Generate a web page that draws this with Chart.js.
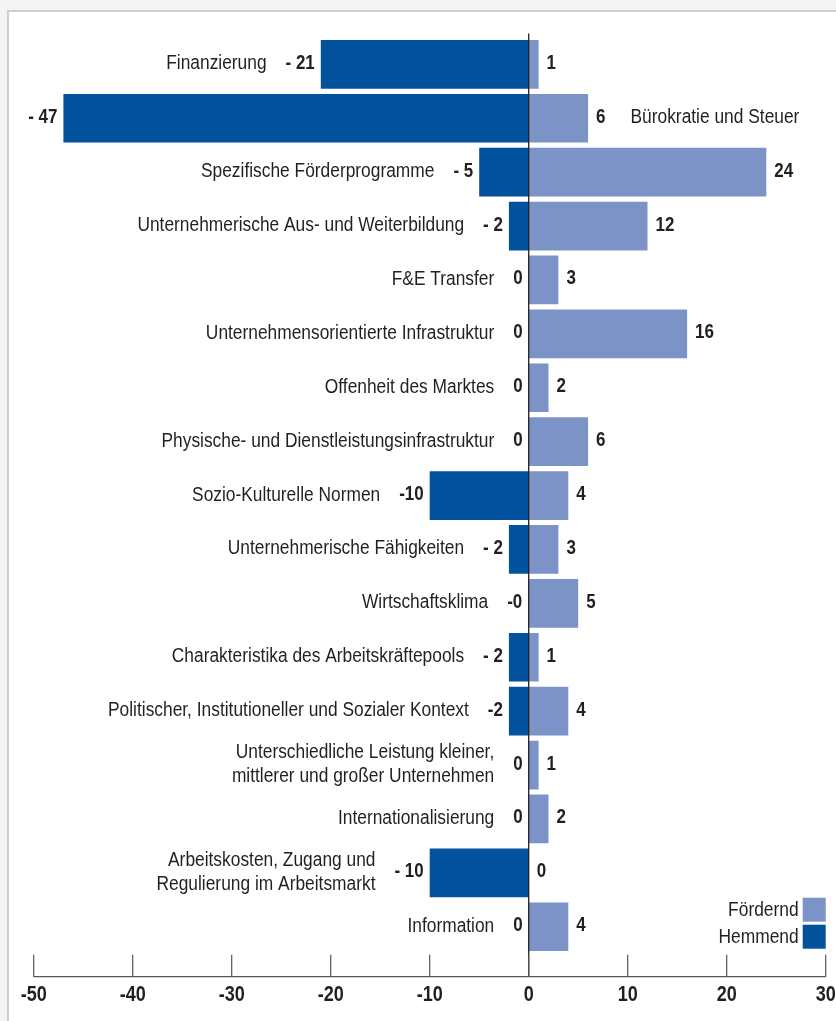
<!DOCTYPE html>
<html lang="de">
<head>
<meta charset="utf-8">
<title>Fördernde und hemmende Faktoren</title>
<script src="https://cdn.jsdelivr.net/npm/chart.js@4.4.1/dist/chart.umd.min.js"></script>
<style>
    html, body { margin: 0; padding: 0; background: #fff; }
    #wrap { position: relative; width: 836px; height: 1021px; overflow: hidden; background: #f3f4f6; }
    #frame { position: absolute; left: 7px; top: 10px; width: 900px; height: 1100px; background: #fff;
             border-left: 2px solid #cfcfcf; border-top: 2px solid #cfcfcf; }
    canvas { position: absolute; left: 0; top: 0; }
</style>
</head>
<body>
<div id="wrap">
    <div id="frame"></div>
    <canvas id="factorChart" width="836" height="1021"></canvas>
</div>
<script>
// Kategorien (von oben nach unten)
const categories = [
    'Finanzierung',
    'Bürokratie und Steuer',
    'Spezifische Förderprogramme',
    'Unternehmerische Aus- und Weiterbildung',
    'F&E Transfer',
    'Unternehmensorientierte Infrastruktur',
    'Offenheit des Marktes',
    'Physische- und Dienstleistungsinfrastruktur',
    'Sozio-Kulturelle Normen',
    'Unternehmerische Fähigkeiten',
    'Wirtschaftsklima',
    'Charakteristika des Arbeitskräftepools',
    'Politischer, Institutioneller und Sozialer Kontext',
    ['Unterschiedliche Leistung kleiner,', 'mittlerer und großer Unternehmen'],
    'Internationalisierung',
    ['Arbeitskosten, Zugang und', 'Regulierung im Arbeitsmarkt'],
    'Information'
];

// Werte
const foerdernd = [1, 6, 24, 12, 3, 16, 2, 6, 4, 3, 5, 1, 4, 1, 2, 0, 4];
const hemmend = [-21, -47, -5, -2, 0, 0, 0, 0, -10, -2, -0.04, -2, -2, 0, 0, -10, 0];
const hemmendText = ['- 21', '- 47', '- 5', '- 2', '0', '0', '0', '0', '-10', '- 2', '-0', '- 2', '-2', '0', '0', '- 10', '0'];

// Achse
const xTicks = [-50, -40, -30, -20, -10, 0, 10, 20, 30];

const FONT = "'Liberation Sans', Arial, sans-serif";
const TEXT_COLOR = '#231f20';
const COLOR_FOERDERND = '#7b93c6';
const COLOR_HEMMEND = '#02529e';

// schmale Schrift: Liberation Sans horizontal gestaucht
function narrowText(ctx, text, x, y, align, font, squeeze) {
    ctx.font = font;
    const w = ctx.measureText(text).width * squeeze;
    let left = x;
    if (align === 'right') left = x - w;
    if (align === 'center') left = x - w / 2;
    ctx.save();
    ctx.translate(left, y);
    ctx.scale(squeeze, 1);
    ctx.textAlign = 'left';
    ctx.textBaseline = 'alphabetic';
    ctx.fillText(text, 0, 0);
    ctx.restore();
    return w;
}

function narrowWidth(ctx, text, font, squeeze) {
    ctx.font = font;
    return ctx.measureText(text).width * squeeze;
}

// Zeichnet Nulllinie, Achse, Beschriftungen und Legende
const labelPlugin = {
    id: 'rowLabels',
    afterDatasetsDraw(chart) {
        const { ctx, chartArea, scales: { x, y } } = chart;
        const zero = x.getPixelForValue(0);
        const axisY = chartArea.bottom + 23;

        const labelFont = '19.5px ' + FONT;
        const valueFont = 'bold 19.5px ' + FONT;
        const tickFont = 'bold 21.5px ' + FONT;
        const legendFont = '20px ' + FONT;

        ctx.save();

        // Nulllinie
        ctx.strokeStyle = TEXT_COLOR;
        ctx.lineWidth = 1.3;
        ctx.beginPath();
        ctx.moveTo(zero, chartArea.top - 4);
        ctx.lineTo(zero, axisY);
        ctx.stroke();

        // x-Achse mit Strichen nach oben
        ctx.strokeStyle = '#555';
        ctx.lineWidth = 1.2;
        ctx.beginPath();
        ctx.moveTo(x.left, axisY);
        ctx.lineTo(x.right, axisY);
        x.ticks.forEach(t => {
            const px = x.getPixelForValue(t.value);
            ctx.moveTo(px, axisY);
            ctx.lineTo(px, axisY - 22);
        });
        ctx.stroke();

        ctx.fillStyle = TEXT_COLOR;
        x.ticks.forEach(t => {
            narrowText(ctx, String(t.value), x.getPixelForValue(t.value), axisY + 24, 'center', tickFont, 0.84);
        });

        // Zeilenbeschriftungen
        categories.forEach((cat, i) => {
            const cy = y.getPixelForValue(i);
            const base = cy + 4.5;
            const negEnd = x.getPixelForValue(Math.min(hemmend[i], 0));
            const posEnd = x.getPixelForValue(Math.max(foerdernd[i], 0));

            const negW = narrowText(ctx, hemmendText[i], negEnd - 6, base, 'right', valueFont, 0.87);
            const posW = narrowText(ctx, String(foerdernd[i]), posEnd + 8, base, 'left', valueFont, 0.87);

            const lines = Array.isArray(cat) ? cat : [cat];
            const maxW = Math.max(...lines.map(l => narrowWidth(ctx, l, labelFont, 0.89)));
            let lx = negEnd - 6 - negW - 19;
            let align = 'right';
            if (lx - maxW < chartArea.left) {
                lx = posEnd + 8 + posW + 25;
                align = 'left';
            }
            lines.forEach((l, k) => {
                const ly = base + 0.5 + (k - (lines.length - 1) / 2) * 24;
                narrowText(ctx, l, lx, ly, align, labelFont, 0.89);
            });
        });

        // Legende unten rechts
        const boxW = 23, boxH = 24;
        let top = chartArea.bottom - 56;
        chart.data.datasets.forEach(ds => {
            ctx.fillStyle = ds.backgroundColor;
            ctx.fillRect(chartArea.right - boxW, top, boxW, boxH);
            ctx.fillStyle = TEXT_COLOR;
            narrowText(ctx, ds.label, chartArea.right - boxW - 4, top + boxH / 2 + 6, 'right', legendFont, 0.87);
            top += boxH + 3;
        });

        ctx.restore();
    }
};

const ctx = document.getElementById('factorChart');

new Chart(ctx, {
    type: 'bar',
    data: {
        labels: categories,
        datasets: [{
            label: 'Fördernd',
            data: foerdernd,
            backgroundColor: COLOR_FOERDERND,
            borderWidth: 0,
            barPercentage: 0.904,
            categoryPercentage: 1
        }, {
            label: 'Hemmend',
            data: hemmend,
            backgroundColor: COLOR_HEMMEND,
            borderWidth: 0,
            barPercentage: 0.904,
            categoryPercentage: 1
        }]
    },
    options: {
        indexAxis: 'y',
        responsive: false,
        devicePixelRatio: 1,
        animation: false,
        layout: {
            padding: { top: 37.4, left: 33.7, right: 10.3, bottom: 14 }
        },
        plugins: {
            legend: { display: false },
            tooltip: { enabled: false }
        },
        scales: {
            x: {
                type: 'linear',
                stacked: true,
                min: -50,
                max: 30,
                grid: { display: false, drawTicks: false },
                border: { display: false },
                afterBuildTicks: scale => {
                    scale.ticks = xTicks.map(v => ({ value: v }));
                },
                afterFit: scale => {
                    scale.height = 53.3;
                },
                ticks: { display: false }
            },
            y: {
                stacked: true,
                display: false,
                offset: true
            }
        }
    },
    plugins: [labelPlugin]
});
</script>
</body>
</html>
